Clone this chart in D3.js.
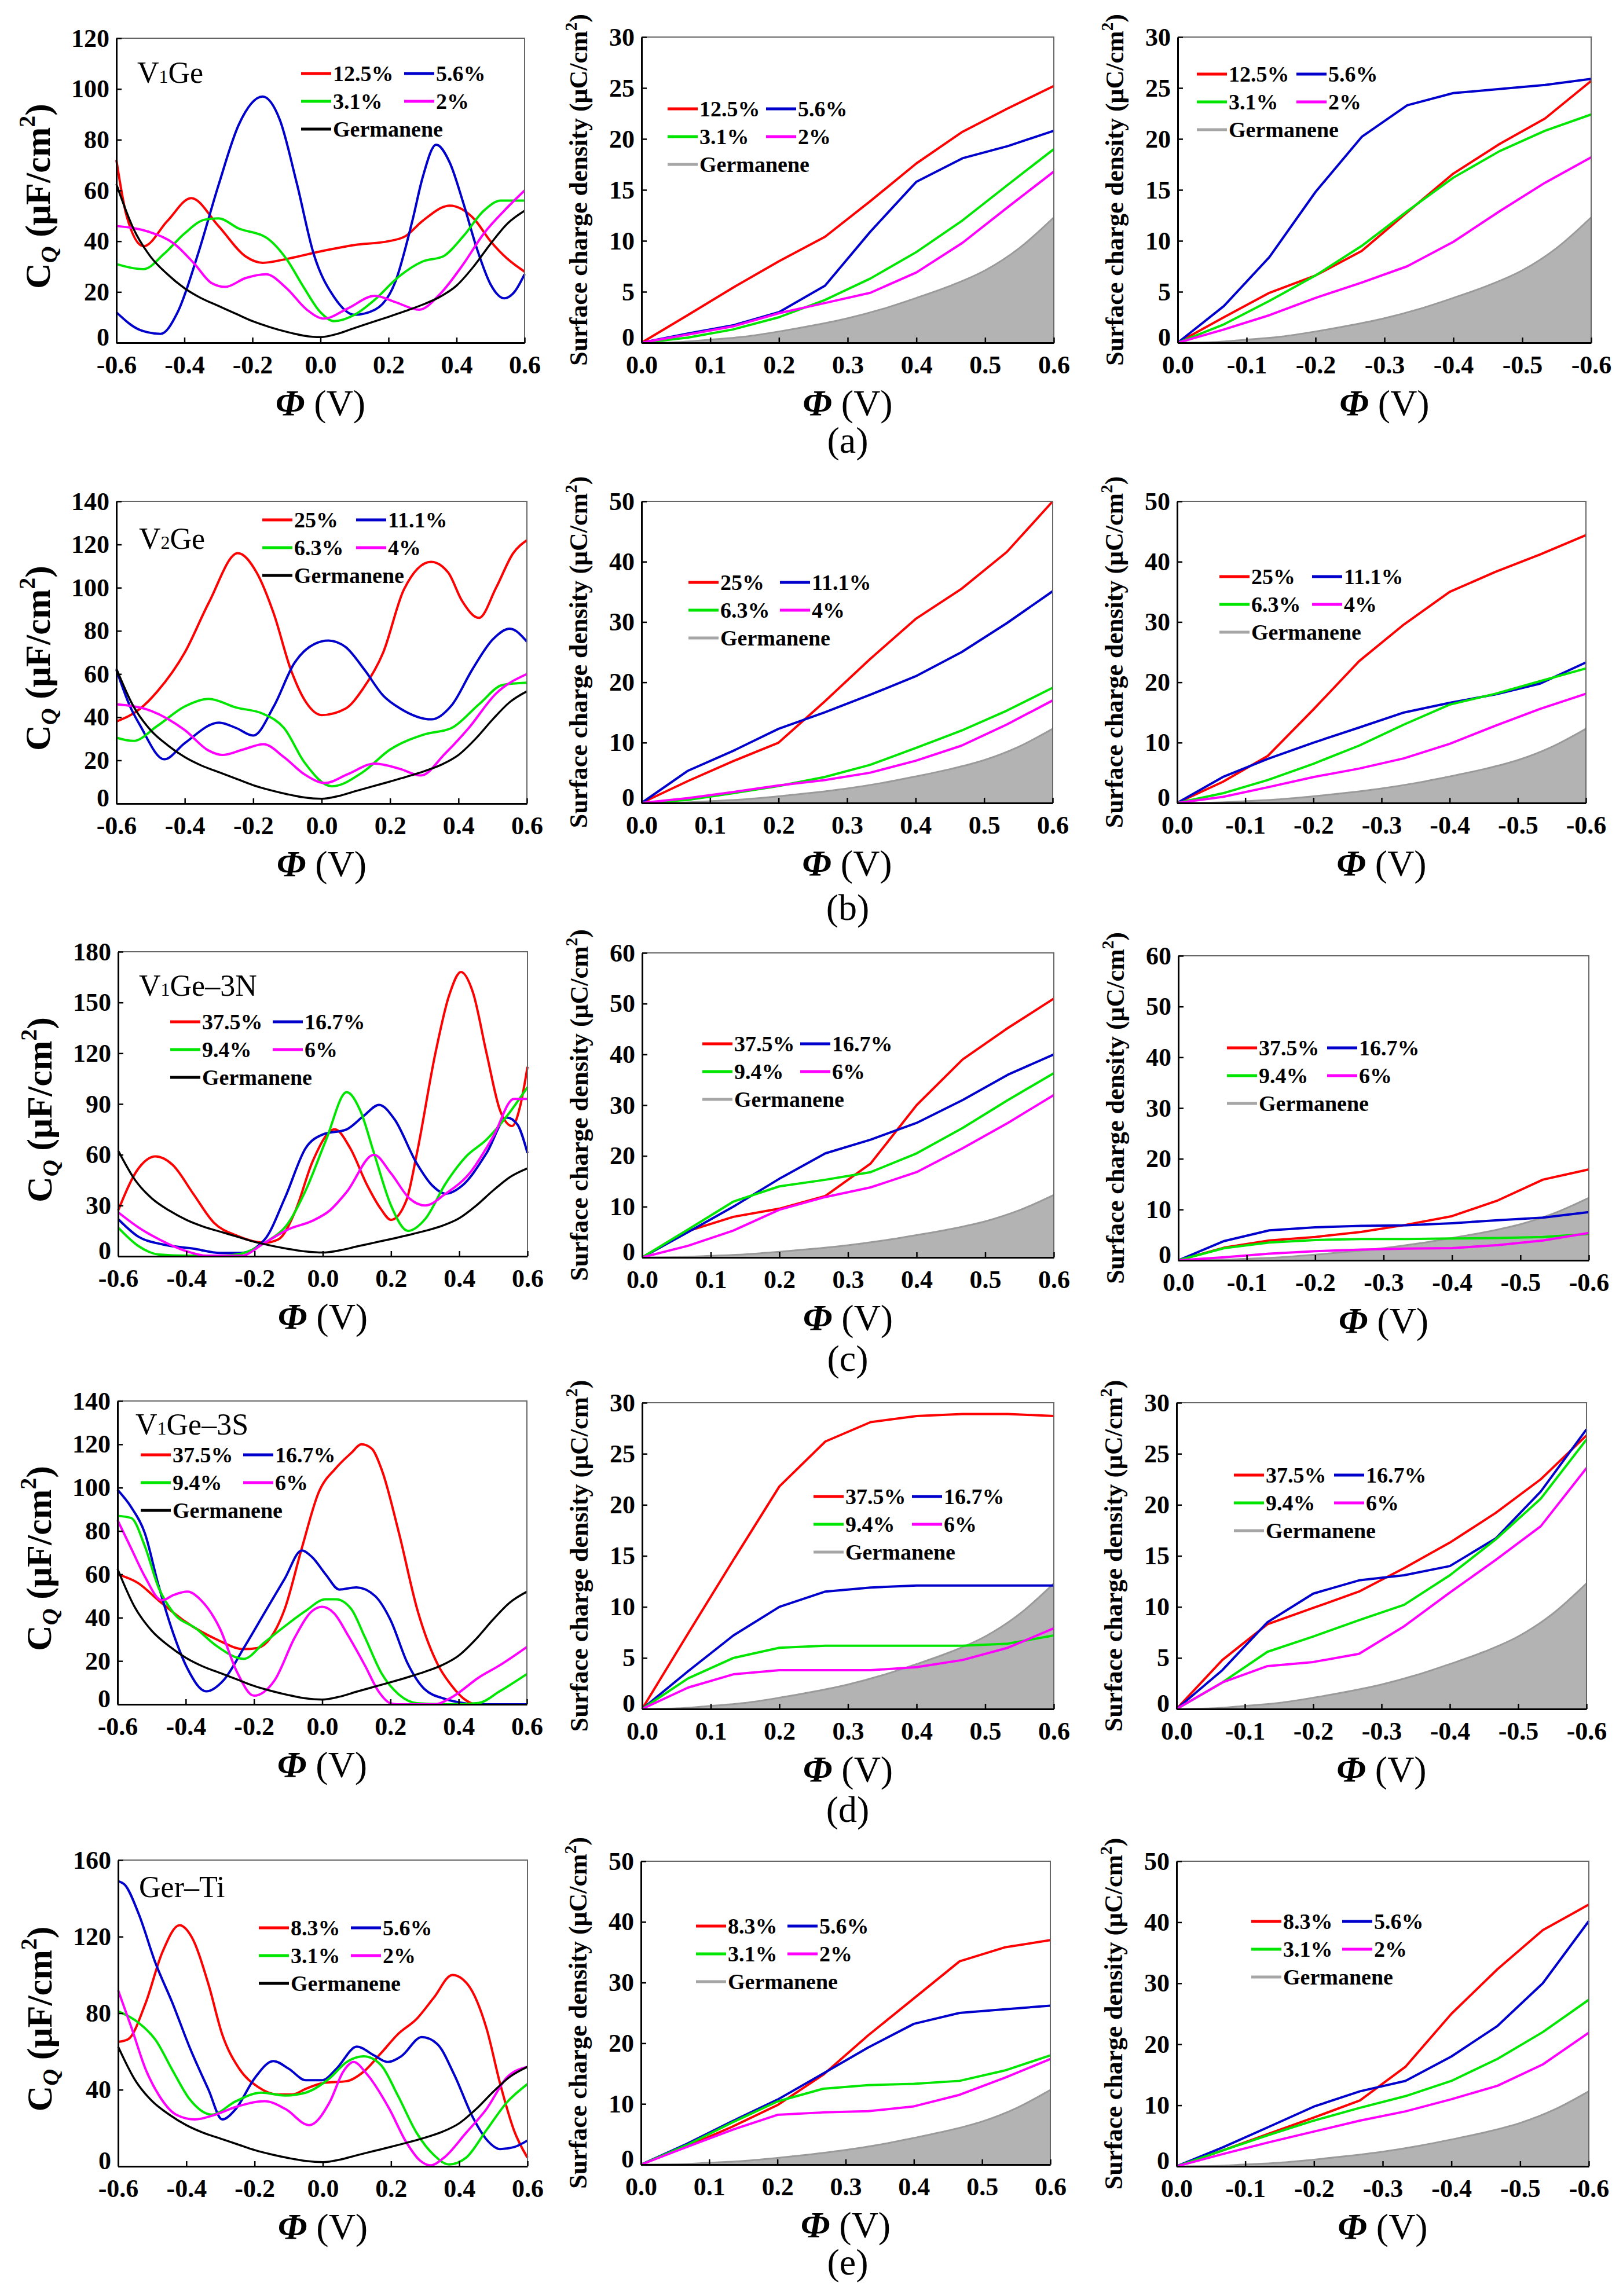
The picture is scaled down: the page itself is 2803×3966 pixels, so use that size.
<!DOCTYPE html>
<html><head><meta charset="utf-8">
<script src="https://cdn.jsdelivr.net/npm/d3@7"></script>
<style>body{margin:0;background:#fff}</style>
</head><body>
<svg id="c" width="2803" height="3966" xmlns="http://www.w3.org/2000/svg"></svg>
<script>
// ---------------- DATA ----------------
const panelNames = ["V1Ge", "V2Ge", "V1Ge\u20133N", "V1Ge\u20133S", "Ger\u2013Ti"];
const subLabels = ["(a)", "(b)", "(c)", "(d)", "(e)"];
const labelsA = ["12.5%", "5.6%", "3.1%", "2%"];
const labelsB = ["25%", "11.1%", "6.3%", "4%"];
const labelsC = ["37.5%", "16.7%", "9.4%", "6%"];
const labelsD = ["37.5%", "16.7%", "9.4%", "6%"];
const labelsE = ["8.3%", "5.6%", "3.1%", "2%"];

const cqTicksA = [0, 20, 40, 60, 80, 100, 120];
const cqTicksB = [0, 20, 40, 60, 80, 100, 120, 140];
const cqTicksC = [0, 30, 60, 90, 120, 150, 180];
const cqTicksD = [0, 20, 40, 60, 80, 100, 120, 140];
const cqTicksE = [0, 40, 80, 120, 160];
const qTicksA = [0, 5, 10, 15, 20, 25, 30];
const qTicksB = [0, 10, 20, 30, 40, 50];
const qTicksC = [0, 10, 20, 30, 40, 50, 60];
const qTicksD = [0, 5, 10, 15, 20, 25, 30];
const qTicksE = [0, 10, 20, 30, 40, 50];
const phiTicksFull = [-0.6, -0.4, -0.2, 0, 0.2, 0.4, 0.6];
const phiTicksPos = [0, 0.1, 0.2, 0.3, 0.4, 0.5, 0.6];
const phiTicksNeg = [0, -0.1, -0.2, -0.3, -0.4, -0.5, -0.6];

// Germanene quantum capacitance (black)
const geCqX = [-0.6,-0.55,-0.5,-0.45,-0.4,-0.35,-0.3,-0.25,-0.2,-0.15,-0.1,-0.05,0,0.05,0.1,0.15,0.2,0.25,0.3,0.35,0.4,0.45,0.5,0.55,0.6];
const geCqY = [62.5,45,34,27,21.5,17.5,14.5,11.5,8.5,6.2,4.3,2.8,2.2,3.5,5.8,8,10.2,12.5,15,18,22.5,30,39,47,52];
// Germanene surface charge (grey area)
const gerPhiPos = [0,0.05,0.1,0.15,0.2,0.25,0.3,0.35,0.4,0.45,0.5,0.55,0.6];
const gerPhiNeg = [0,-0.05,-0.1,-0.15,-0.2,-0.25,-0.3,-0.35,-0.4,-0.45,-0.5,-0.55,-0.6];
const gerCharge = [0,0.05,0.3,0.6,1.1,1.7,2.4,3.3,4.4,5.6,7.1,9.3,12.3];

// C_Q curves [phi, C_Q]
const cqA_r = [[-0.6,72],[-0.57,50],[-0.52,38],[-0.45,48],[-0.38,57],[-0.3,46],[-0.22,34],[-0.17,31.5],[-0.1,33],[0,36],[0.1,38.5],[0.2,40],[0.25,42],[0.3,48],[0.38,54],[0.45,49],[0.5,40],[0.55,33],[0.6,28]];
const cqA_b = [[-0.6,12],[-0.53,5],[-0.47,3.5],[-0.42,12],[-0.36,35],[-0.3,62],[-0.24,86],[-0.17,97],[-0.12,88],[-0.07,63],[-0.02,35],[0.04,18],[0.1,11],[0.16,13],[0.22,24],[0.27,48],[0.3,65],[0.34,78],[0.38,71],[0.42,55],[0.46,37],[0.5,23],[0.54,17.5],[0.57,20],[0.6,27]];
const cqA_g = [[-0.6,31],[-0.52,29],[-0.46,35],[-0.4,43],[-0.34,48.5],[-0.3,49],[-0.24,45],[-0.16,41.5],[-0.1,33],[-0.05,22],[0,12],[0.04,8.5],[0.1,11],[0.16,17],[0.23,26],[0.3,32],[0.36,34],[0.42,42],[0.48,52],[0.53,56],[0.6,56]];
const cqA_m = [[-0.6,46],[-0.5,43.5],[-0.43,39],[-0.37,31],[-0.32,23.5],[-0.28,22],[-0.22,25.5],[-0.16,27],[-0.1,21.5],[-0.04,13],[0.01,9.5],[0.08,13.5],[0.16,18.5],[0.22,16],[0.29,13],[0.35,19],[0.42,31],[0.48,43],[0.54,52],[0.6,60]];

const cqB_r = [[-0.6,38],[-0.53,44],[-0.48,52],[-0.4,70],[-0.33,93],[-0.245,116],[-0.19,107],[-0.14,88],[-0.09,62],[-0.05,48],[0,41],[0.07,44],[0.12,53],[0.18,70],[0.24,99],[0.32,112],[0.37,107],[0.41,94],[0.46,86],[0.51,100],[0.56,116],[0.6,122]];
const cqB_b = [[-0.6,62],[-0.56,45],[-0.53,36],[-0.46,20.5],[-0.4,28],[-0.3,37.5],[-0.25,35],[-0.2,31.5],[-0.14,45],[-0.08,65],[-0.02,74],[0.02,75.5],[0.07,72.5],[0.125,62],[0.18,50],[0.23,44],[0.32,39],[0.38,45.5],[0.44,62],[0.5,76],[0.55,81],[0.6,75]];
const cqB_g = [[-0.6,30.5],[-0.55,29],[-0.48,36],[-0.4,45],[-0.33,48.5],[-0.25,44.5],[-0.17,41.5],[-0.11,35],[-0.05,19],[0.03,8],[0.12,14.5],[0.2,25],[0.3,32],[0.38,35],[0.46,46],[0.53,55],[0.6,56]];
const cqB_m = [[-0.6,46],[-0.5,43],[-0.4,34],[-0.33,24.5],[-0.29,22.5],[-0.23,25],[-0.17,27.5],[-0.11,21.5],[-0.05,13.5],[0.01,9.5],[0.075,13.5],[0.155,18.5],[0.23,16],[0.29,13],[0.36,23],[0.43,35],[0.51,51],[0.6,60]];

const cqC_r = [[-0.6,27],[-0.54,52],[-0.49,59],[-0.44,54],[-0.38,37],[-0.32,20],[-0.25,12],[-0.17,8],[-0.13,10],[-0.08,27],[-0.03,56],[0.035,75],[0.08,64],[0.13,42],[0.17,28],[0.2,21.5],[0.245,33],[0.275,60],[0.33,120],[0.37,154],[0.405,168],[0.44,156],[0.48,120],[0.52,86],[0.555,77],[0.58,90],[0.6,112]];
const cqC_b = [[-0.6,22],[-0.54,11.5],[-0.47,7],[-0.38,4.5],[-0.3,2],[-0.24,2],[-0.17,10],[-0.11,35],[-0.05,64],[0,72],[0.07,75],[0.12,83],[0.165,89.5],[0.21,81],[0.275,55],[0.32,42],[0.36,37],[0.41,42],[0.48,61],[0.54,82],[0.57,78],[0.6,61]];
const cqC_g = [[-0.6,17],[-0.54,6],[-0.48,1],[-0.4,0.3],[-0.3,0.3],[-0.24,1.5],[-0.17,8],[-0.1,20],[-0.05,39],[0.01,69],[0.07,97],[0.11,86],[0.15,61],[0.2,30],[0.25,15],[0.3,22],[0.36,43],[0.42,59],[0.48,69],[0.54,83],[0.6,100]];
const cqC_m = [[-0.6,26],[-0.54,17],[-0.48,10],[-0.4,3],[-0.34,0.3],[-0.24,0.3],[-0.17,8],[-0.1,16],[-0.03,21],[0.02,27],[0.07,38],[0.15,60],[0.2,49],[0.255,34],[0.3,30],[0.36,37],[0.43,49],[0.5,71],[0.56,93],[0.6,93]];

const cqD_r = [[-0.6,60],[-0.54,56],[-0.48,48],[-0.4,38],[-0.31,30],[-0.23,25.5],[-0.19,26],[-0.15,31],[-0.11,44],[-0.06,72],[-0.01,98],[0.04,109],[0.085,116],[0.115,120],[0.145,118],[0.175,108],[0.225,79],[0.28,43],[0.34,18],[0.38,8.5],[0.42,2],[0.45,0],[0.6,0]];
const cqD_b = [[-0.6,99],[-0.56,91],[-0.52,79],[-0.48,55],[-0.435,32],[-0.395,16.5],[-0.34,6],[-0.29,11],[-0.23,26],[-0.17,42],[-0.11,58],[-0.06,71],[-0.03,68],[0.01,60],[0.05,53],[0.1,54],[0.155,50],[0.2,39],[0.25,19],[0.3,7],[0.36,2.5],[0.41,0.7],[0.46,0],[0.6,0]];
const cqD_g = [[-0.6,87],[-0.56,86],[-0.52,73],[-0.48,54],[-0.435,42],[-0.37,35],[-0.31,27],[-0.23,21],[-0.17,28.5],[-0.11,36],[-0.05,43],[0.01,48.5],[0.04,48.5],[0.085,44],[0.125,31],[0.175,14],[0.225,4.5],[0.28,0.5],[0.38,0],[0.46,0.7],[0.52,6],[0.6,14]];
const cqD_m = [[-0.6,85],[-0.56,72],[-0.52,59],[-0.47,48],[-0.435,50.5],[-0.395,52],[-0.355,48],[-0.3,35],[-0.25,15],[-0.2,4],[-0.14,11],[-0.08,31],[-0.03,43],[0,45],[0.035,42],[0.075,32],[0.125,18],[0.165,6],[0.2,0.5],[0.22,0],[0.33,0],[0.38,3.3],[0.46,12.5],[0.52,18],[0.6,26.5]];

const cqE_r = [[-0.6,65],[-0.57,66.5],[-0.52,85],[-0.47,112],[-0.42,126],[-0.385,120],[-0.335,95],[-0.295,69],[-0.245,51],[-0.19,41.5],[-0.13,37.5],[-0.09,37.5],[-0.05,40.5],[0,43.5],[0.07,44.5],[0.12,49.5],[0.17,59],[0.22,69],[0.275,77],[0.325,88],[0.38,100],[0.425,95],[0.48,72],[0.52,43],[0.56,19],[0.6,4.5]];
const cqE_b = [[-0.6,149],[-0.58,147],[-0.54,132],[-0.49,106],[-0.44,85],[-0.39,62],[-0.335,40],[-0.295,24.5],[-0.255,30],[-0.2,46],[-0.145,55],[-0.1,51],[-0.05,45],[0,45],[0.04,51],[0.1,62.5],[0.15,58],[0.19,54.5],[0.23,57.5],[0.29,67.5],[0.335,64],[0.385,48],[0.44,25.5],[0.48,14],[0.52,9],[0.56,10],[0.6,13.5]];
const cqE_g = [[-0.6,81],[-0.54,75],[-0.49,66],[-0.44,50],[-0.39,35],[-0.325,27],[-0.255,34],[-0.18,38.5],[-0.11,37],[-0.05,38.5],[0.02,46],[0.07,54.5],[0.12,57.5],[0.17,53],[0.22,37],[0.275,17.5],[0.325,6],[0.37,1],[0.42,4.5],[0.48,19],[0.54,33.5],[0.6,43]];
const cqE_m = [[-0.6,92],[-0.56,72],[-0.52,51],[-0.48,37],[-0.43,27],[-0.375,24.5],[-0.315,27],[-0.255,31],[-0.17,34],[-0.11,30],[-0.04,21.5],[0.02,33.5],[0.06,49.5],[0.09,54.5],[0.13,48],[0.195,30],[0.245,12.5],[0.285,3],[0.315,0.5],[0.355,4.5],[0.42,17.5],[0.48,30],[0.54,46.5],[0.6,52]];

// Surface charge density, sampled at these potentials
const phiQpos = [0, 0.067, 0.133, 0.2, 0.267, 0.333, 0.4, 0.467, 0.533, 0.6];
const phiQneg = [0, -0.067, -0.133, -0.2, -0.267, -0.333, -0.4, -0.467, -0.533, -0.6];

const qA_pos_r = [0, 2.7, 5.4, 8.0, 10.4, 13.9, 17.6, 20.7, 23.0, 25.2];
const qA_pos_b = [0, 0.9, 1.7, 3.0, 5.6, 10.9, 15.8, 18.1, 19.3, 20.8];
const qA_pos_g = [0, 0.5, 1.3, 2.5, 4.2, 6.3, 8.9, 12.0, 15.5, 19.0];
const qA_pos_m = [0, 0.8, 1.6, 2.9, 3.9, 4.9, 6.9, 9.8, 13.3, 16.8];
const qA_neg_r = [0, 2.5, 4.9, 6.6, 9.0, 12.8, 16.6, 19.5, 22.0, 25.7];
const qA_neg_b = [0, 3.6, 8.4, 14.8, 20.2, 23.3, 24.5, 24.9, 25.3, 25.9];
const qA_neg_g = [0, 1.8, 4.1, 6.6, 9.5, 12.9, 16.2, 18.8, 20.8, 22.4];
const qA_neg_m = [0, 1.3, 2.7, 4.4, 5.9, 7.5, 9.9, 12.9, 15.7, 18.2];

const qB_pos_r = [0, 3.6, 6.9, 10.0, 16.8, 23.8, 30.5, 35.5, 41.6, 50.0];
const qB_pos_b = [0, 5.3, 8.6, 12.3, 15.0, 17.9, 21.0, 25.0, 29.8, 35.1];
const qB_pos_g = [0, 0.5, 1.6, 2.8, 4.3, 6.3, 9.1, 12.0, 15.3, 19.1];
const qB_pos_m = [0, 0.8, 1.8, 2.9, 3.8, 5.0, 7.0, 9.5, 13.0, 17.0];
const qB_neg_r = [0, 3.5, 7.8, 15.5, 23.5, 29.6, 35.0, 38.3, 41.2, 44.4];
const qB_neg_b = [0, 4.3, 7.3, 10.0, 12.5, 15.0, 16.6, 18.0, 19.8, 23.3];
const qB_neg_g = [0, 1.6, 3.8, 6.5, 9.5, 13.0, 16.3, 18.1, 20.2, 22.3];
const qB_neg_m = [0, 1.0, 2.6, 4.3, 5.7, 7.4, 9.8, 12.8, 15.6, 18.1];

const qC_pos_r = [0, 5.2, 8.0, 9.6, 12.1, 18.5, 30.0, 39.0, 45.2, 51.0];
const qC_pos_b = [0, 5.0, 10.0, 15.5, 20.5, 23.2, 26.5, 31.0, 36.0, 40.0];
const qC_pos_g = [0, 5.5, 11.0, 14.0, 15.3, 16.8, 20.5, 25.5, 31.0, 36.3];
const qC_pos_m = [0, 2.3, 5.3, 9.4, 11.9, 13.8, 16.8, 21.5, 26.5, 32.0];
const qC_neg_r = [0, 2.5, 3.9, 4.6, 5.6, 7.0, 8.7, 11.8, 15.9, 17.9];
const qC_neg_b = [0, 3.8, 5.9, 6.5, 6.8, 6.9, 7.3, 7.9, 8.4, 9.5];
const qC_neg_g = [0, 2.4, 3.5, 4.0, 4.2, 4.2, 4.3, 4.4, 4.6, 5.2];
const qC_neg_m = [0, 0.6, 1.3, 1.8, 2.1, 2.3, 2.4, 3.0, 3.9, 5.4];

const qD_pos_r = [0, 7.4, 14.6, 21.8, 26.2, 28.1, 28.7, 28.9, 28.9, 28.7];
const qD_pos_b = [0, 3.7, 7.2, 10.0, 11.5, 11.9, 12.1, 12.1, 12.1, 12.1];
const qD_pos_g = [0, 3.0, 5.0, 6.0, 6.2, 6.2, 6.2, 6.2, 6.4, 7.2];
const qD_pos_m = [0, 2.1, 3.4, 3.8, 3.8, 3.8, 4.1, 4.8, 6.0, 7.9];
const qD_neg_r = [0, 4.8, 8.3, 9.9, 11.5, 13.8, 16.3, 19.2, 22.5, 26.8];
const qD_neg_b = [0, 3.8, 8.5, 11.3, 12.6, 13.1, 14.0, 16.7, 21.3, 27.4];
const qD_neg_g = [0, 2.6, 5.6, 7.1, 8.7, 10.2, 13.1, 16.6, 20.6, 26.4];
const qD_neg_m = [0, 2.6, 4.2, 4.6, 5.4, 8.1, 11.4, 14.6, 17.9, 23.6];

const qE_pos_r = [0, 3.0, 6.2, 9.8, 14.8, 21.3, 27.4, 33.5, 35.8, 37.0];
const qE_pos_b = [0, 3.4, 7.1, 10.7, 15.0, 19.3, 23.2, 25.0, 25.6, 26.2];
const qE_pos_g = [0, 3.2, 6.9, 10.4, 12.5, 13.1, 13.3, 13.8, 15.5, 18.0];
const qE_pos_m = [0, 2.9, 5.7, 8.2, 8.6, 8.8, 9.6, 11.5, 14.3, 17.4];
const qE_neg_r = [0, 2.6, 5.3, 8.0, 10.8, 16.3, 25.0, 32.3, 38.7, 42.9];
const qE_neg_b = [0, 3.1, 6.4, 9.8, 12.3, 14.0, 18.0, 23.0, 30.0, 40.2];
const qE_neg_g = [0, 2.6, 5.1, 7.5, 9.6, 11.5, 14.0, 17.6, 22.0, 27.3];
const qE_neg_m = [0, 2.0, 3.9, 5.7, 7.5, 9.0, 11.0, 13.2, 16.7, 21.9];

// ---------------- STYLE / LAYOUT ----------------
const FONT = "'Liberation Serif','Times New Roman',serif";
const COLORS = ["#ff0000", "#0000cc", "#00e600", "#ff00ff"];
const GER_LINE = "#a6a6a6", GER_FILL = "#b3b3b3";
const TICK_FS = 44;

const rows = [
  { name: panelNames[0], sub: subLabels[0], subY: 782, labels: labelsA,
    cq: [cqA_r, cqA_b, cqA_g, cqA_m], cqMax: 120, cqTicks: cqTicksA,
    qPos: [qA_pos_r, qA_pos_b, qA_pos_g, qA_pos_m], qNeg: [qA_neg_r, qA_neg_b, qA_neg_g, qA_neg_m], qMax: 30, qTicks: qTicksA,
    boxL: {x0:201, x1:906, y0:66, y1:592}, boxM: {x0:1108, x1:1820, y0:64, y1:592}, boxR: {x0:2034, x1:2748, y0:64, y1:592},
    nameXY: [237, 143],
    legL: [520, 127, 178], legM: [1153, 188, 170], legR: [2067, 128, 172] },
  { name: panelNames[1], sub: subLabels[1], subY: 1589, labels: labelsB,
    cq: [cqB_r, cqB_b, cqB_g, cqB_m], cqMax: 140, cqTicks: cqTicksB,
    qPos: [qB_pos_r, qB_pos_b, qB_pos_g, qB_pos_m], qNeg: [qB_neg_r, qB_neg_b, qB_neg_g, qB_neg_m], qMax: 50, qTicks: qTicksB,
    boxL: {x0:201, x1:910, y0:866, y1:1388}, boxM: {x0:1108, x1:1818, y0:866, y1:1387}, boxR: {x0:2033, x1:2739, y0:866, y1:1387},
    nameXY: [240, 948],
    legL: [453, 898, 162], legM: [1189, 1006, 158], legR: [2106, 996, 160] },
  { name: panelNames[2], sub: subLabels[2], subY: 2368, labels: labelsC,
    cq: [cqC_r, cqC_b, cqC_g, cqC_m], cqMax: 180, cqTicks: cqTicksC,
    qPos: [qC_pos_r, qC_pos_b, qC_pos_g, qC_pos_m], qNeg: [qC_neg_r, qC_neg_b, qC_neg_g, qC_neg_m], qMax: 60, qTicks: qTicksC,
    boxL: {x0:204, x1:911, y0:1644, y1:2170}, boxM: {x0:1109, x1:1820, y0:1646, y1:2172}, boxR: {x0:2035, x1:2744, y0:1651, y1:2177},
    nameXY: [240, 1720],
    legL: [294, 1765, 177], legM: [1213, 1803, 169], legR: [2119, 1810, 173] },
  { name: panelNames[3], sub: subLabels[3], subY: 3147, labels: labelsD,
    cq: [cqD_r, cqD_b, cqD_g, cqD_m], cqMax: 140, cqTicks: cqTicksD,
    qPos: [qD_pos_r, qD_pos_b, qD_pos_g, qD_pos_m], qNeg: [qD_neg_r, qD_neg_b, qD_neg_g, qD_neg_m], qMax: 30, qTicks: qTicksD,
    boxL: {x0:203, x1:910, y0:2420, y1:2944}, boxM: {x0:1109, x1:1820, y0:2423, y1:2952}, boxR: {x0:2032, x1:2740, y0:2423, y1:2952},
    nameXY: [234, 2478],
    legL: [243, 2513, 177], legM: [1405, 2585, 170], legR: [2131, 2548, 173] },
  { name: panelNames[4], sub: subLabels[4], subY: 3929, labels: labelsE,
    cq: [cqE_r, cqE_b, cqE_g, cqE_m], cqMax: 160, cqTicks: cqTicksE,
    qPos: [qE_pos_r, qE_pos_b, qE_pos_g, qE_pos_m], qNeg: [qE_neg_r, qE_neg_b, qE_neg_g, qE_neg_m], qMax: 50, qTicks: qTicksE,
    boxL: {x0:204, x1:911, y0:3213, y1:3742}, boxM: {x0:1107, x1:1814, y0:3215, y1:3739}, boxR: {x0:2032, x1:2744, y0:3215, y1:3742},
    nameXY: [240, 3277],
    legL: [447, 3330, 159], legM: [1202, 3327, 158], legR: [2161, 3319, 157] }
];

// ---------------- DRAWING ----------------
const svg = d3.select("#c");
svg.append("rect").attr("width", 2803).attr("height", 3966).attr("fill", "#fff");
let clipN = 0;
const fmtPhi = v => (v < -1e-9 ? "-" : "") + Math.abs(v).toFixed(1);

function makeClip(box) {
  const id = "clip" + (clipN++);
  svg.append("clipPath").attr("id", id).append("rect")
    .attr("x", box.x0 - 3).attr("y", box.y0 - 3)
    .attr("width", box.x1 - box.x0 + 6).attr("height", box.y1 - box.y0 + 6);
  return "url(#" + id + ")";
}

function drawFrame(g, box, x, y, xTicks, yTicks) {
  g.append("path").attr("d", `M${box.x0},${box.y0}H${box.x1}V${box.y1}`)
    .attr("fill", "none").attr("stroke", "#666").attr("stroke-width", 2);
  const ax = g.append("g").attr("transform", `translate(0,${box.y1})`)
    .call(d3.axisBottom(x).tickValues(xTicks).tickFormat(fmtPhi).tickSize(-9).tickSizeOuter(0).tickPadding(22));
  const ay = g.append("g").attr("transform", `translate(${box.x0},0)`)
    .call(d3.axisLeft(y).tickValues(yTicks).tickFormat(d3.format("d")).tickSize(-9).tickSizeOuter(0).tickPadding(12));
  [ax, ay].forEach(a => {
    a.attr("font-family", FONT).attr("font-size", TICK_FS).attr("font-weight", "bold");
    a.select(".domain").attr("stroke", "#000").attr("stroke-width", 3);
    a.selectAll(".tick line").attr("stroke", "#000").attr("stroke-width", 2.5);
    a.selectAll(".tick text").attr("fill", "#000");
  });
  // the zero label of the y axis sits just above the axis line, clear of the x labels
  ay.selectAll(".tick text").filter(d => d === 0).attr("dy", "0.1em");
}

function xTitle(g, box) {
  const t = g.append("text").attr("x", (box.x0 + box.x1) / 2).attr("y", box.y1 + 126)
    .attr("text-anchor", "middle").attr("font-family", FONT).attr("font-size", 64);
  t.append("tspan").attr("font-weight", "bold").attr("font-style", "italic").text("\u03A6");
  t.append("tspan").text(" (V)");
}

function yTitleCq(g, box) {
  const t = g.append("text")
    .attr("transform", `translate(${box.x0 - 115},${(box.y0 + box.y1) / 2 + 10}) rotate(-90)`)
    .attr("text-anchor", "middle").attr("font-family", FONT).attr("font-weight", "bold").attr("font-size", 62);
  t.append("tspan").text("C");
  t.append("tspan").attr("font-size", 40).attr("font-style", "italic").attr("dy", 12).text("Q");
  t.append("tspan").attr("dy", -12).text(" (\u03BCF/cm");
  t.append("tspan").attr("font-size", 40).attr("dy", -26).text("2");
  t.append("tspan").attr("dy", 26).text(")");
}

function yTitleQ(g, box) {
  const t = g.append("text")
    .attr("transform", `translate(${box.x0 - 94},${(box.y0 + box.y1) / 2}) rotate(-90)`)
    .attr("text-anchor", "middle").attr("font-family", FONT).attr("font-weight", "bold").attr("font-size", 44);
  t.append("tspan").text("Surface charge density (\u03BCC/cm");
  t.append("tspan").attr("font-size", 29).attr("dy", -18).text("2");
  t.append("tspan").attr("dy", 18).text(")");
}

function legend(g, spec, labels, gerColor) {
  const [lx, ly, col2] = spec;
  const items = [
    { t: labels[0], c: COLORS[0], col: 0, row: 0 }, { t: labels[1], c: COLORS[1], col: 1, row: 0 },
    { t: labels[2], c: COLORS[2], col: 0, row: 1 }, { t: labels[3], c: COLORS[3], col: 1, row: 1 },
    { t: "Germanene", c: gerColor, col: 0, row: 2 }];
  items.forEach(it => {
    const x = lx + it.col * col2, y = ly + it.row * 48;
    g.append("line").attr("x1", x).attr("x2", x + 52).attr("y1", y).attr("y2", y)
      .attr("stroke", it.c).attr("stroke-width", 5);
    g.append("text").attr("x", x + 55).attr("y", y + 13).attr("font-family", FONT)
      .attr("font-weight", "bold").attr("font-size", 38).attr("fill", "#000").text(it.t);
  });
}

function drawCq(row) {
  const box = row.boxL;
  const g = svg.append("g");
  const x = d3.scaleLinear().domain([-0.6, 0.6]).range([box.x0, box.x1]);
  const y = d3.scaleLinear().domain([0, row.cqMax]).range([box.y1, box.y0]);
  const line = d3.line().x(d => x(d[0])).y(d => y(d[1])).curve(d3.curveMonotoneX);
  const clip = makeClip(box);
  const lg = g.append("g").attr("clip-path", clip);
  row.cq.forEach((s, i) => {
    lg.append("path").attr("d", line(s)).attr("fill", "none").attr("stroke", COLORS[i])
      .attr("stroke-width", 4).attr("stroke-linejoin", "round");
  });
  const ge = geCqX.map((v, i) => [v, geCqY[i]]);
  lg.append("path").attr("d", line(ge)).attr("fill", "none").attr("stroke", "#000").attr("stroke-width", 3.5);
  drawFrame(g, box, x, y, phiTicksFull, row.cqTicks);
  xTitle(g, box);
  yTitleCq(g, box);
  legend(g, row.legL, row.labels, "#000");
  const m = row.name.match(/^V(\d)(.*)$/);
  const nt = g.append("text").attr("x", row.nameXY[0]).attr("y", row.nameXY[1])
    .attr("font-family", FONT).attr("font-size", 52).attr("fill", "#000");
  if (m) {
    nt.append("tspan").text("V");
    nt.append("tspan").attr("font-size", 32).text(m[1]);
    nt.append("tspan").text(m[2]);
  } else {
    nt.text(row.name);
  }
}

function drawQ(row, box, phiGrid, gerPhi, series, xDomain, xTicks, legSpec) {
  const g = svg.append("g");
  const x = d3.scaleLinear().domain(xDomain).range([box.x0, box.x1]);
  const y = d3.scaleLinear().domain([0, row.qMax]).range([box.y1, box.y0]);
  const clip = makeClip(box);
  const lg = g.append("g").attr("clip-path", clip);
  const gerPts = gerPhi.map((v, i) => [v, gerCharge[i]]);
  lg.append("path").attr("d", d3.area().x(d => x(d[0])).y0(y(0)).y1(d => y(d[1])).curve(d3.curveMonotoneX)(gerPts))
    .attr("fill", GER_FILL).attr("stroke", "none");
  lg.append("path").attr("d", d3.line().x(d => x(d[0])).y(d => y(d[1])).curve(d3.curveMonotoneX)(gerPts))
    .attr("fill", "none").attr("stroke", "#9a9a9a").attr("stroke-width", 3);
  const line = d3.line().x(d => x(d[0])).y(d => y(d[1])).curve(d3.curveLinear);
  series.forEach((vals, i) => {
    const pts = phiGrid.map((p, j) => [p, vals[j]]);
    lg.append("path").attr("d", line(pts)).attr("fill", "none").attr("stroke", COLORS[i])
      .attr("stroke-width", 4).attr("stroke-linejoin", "round");
  });
  drawFrame(g, box, x, y, xTicks, row.qTicks);
  xTitle(g, box);
  yTitleQ(g, box);
  legend(g, legSpec, row.labels, GER_LINE);
}

rows.forEach(row => {
  drawCq(row);
  drawQ(row, row.boxM, phiQpos, gerPhiPos, row.qPos, [0, 0.6], phiTicksPos, row.legM);
  drawQ(row, row.boxR, phiQneg, gerPhiNeg, row.qNeg, [0, -0.6], phiTicksNeg, row.legR);
  svg.append("text").attr("x", 1464).attr("y", row.subY).attr("text-anchor", "middle")
    .attr("font-family", FONT).attr("font-size", 64).attr("fill", "#000").text(row.sub);
});
</script>
</body></html>
